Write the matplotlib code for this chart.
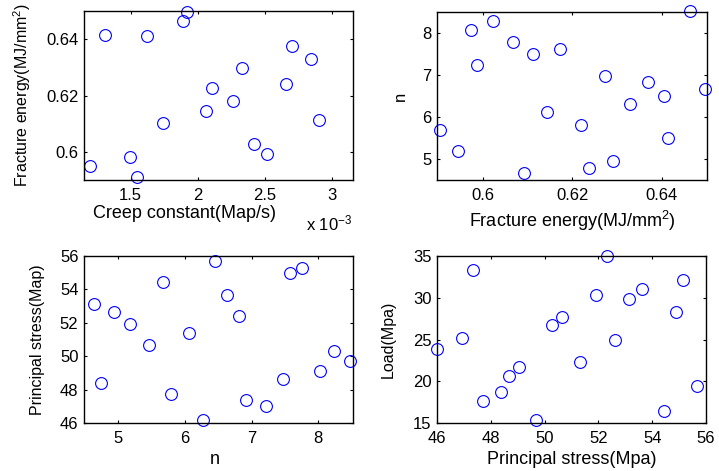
import matplotlib
matplotlib.use("Agg")
import matplotlib.pyplot as plt
from matplotlib.ticker import FuncFormatter

plt.rcParams['font.family'] = ['Liberation Sans', 'DejaVu Sans']
plt.rcParams['mathtext.default'] = 'regular'
plt.rcParams['font.size'] = 12

# panel 1: creep constant vs fracture energy
creep = [1.196e-3, 1.310e-3, 1.495e-3, 1.547e-3, 1.622e-3, 1.741e-3, 1.888e-3, 1.922e-3, 2.062e-3,
         2.104e-3, 2.266e-3, 2.331e-3, 2.422e-3, 2.515e-3, 2.659e-3, 2.704e-3, 2.843e-3, 2.905e-3]
energy1 = [0.5950, 0.6414, 0.5980, 0.5911, 0.6411, 0.6102, 0.6466, 0.6497, 0.6146,
           0.6227, 0.6180, 0.6297, 0.6027, 0.5993, 0.6241, 0.6375, 0.6331, 0.6114]

# panel 2: fracture energy vs n
energy2 = [0.5903, 0.5943, 0.5972, 0.5987, 0.6022, 0.6068, 0.6091, 0.6112, 0.6142, 0.6172,
           0.6220, 0.6237, 0.6273, 0.6291, 0.6329, 0.6370, 0.6405, 0.6414, 0.6464, 0.6497]
n2 = [5.70, 5.19, 8.08, 7.25, 8.29, 7.79, 4.67, 7.49, 6.11, 7.61,
      5.81, 4.78, 6.97, 4.95, 6.32, 6.84, 6.49, 5.49, 8.53, 6.67]

# panel 3: n vs principal stress
n3 = [4.64, 4.75, 4.94, 5.18, 5.46, 5.67, 5.80, 6.07, 6.27, 6.46,
      6.63, 6.81, 6.91, 7.22, 7.47, 7.58, 7.75, 8.02, 8.24, 8.48]
stress3 = [53.14, 48.40, 52.64, 51.90, 50.65, 54.47, 47.73, 51.39, 46.16, 55.70,
           53.66, 52.40, 47.37, 46.99, 48.66, 54.99, 55.27, 49.10, 50.30, 49.70]

# panel 4: principal stress vs load
stress4 = [46.01, 46.94, 47.33, 47.70, 48.38, 48.67, 49.05, 49.67, 50.26, 50.63,
           51.31, 51.91, 52.32, 52.60, 53.13, 53.61, 54.44, 54.88, 55.14, 55.65]
load4 = [23.87, 25.18, 33.38, 17.58, 18.74, 20.64, 21.68, 15.31, 26.77, 27.68,
         22.28, 30.27, 35.00, 24.90, 29.87, 31.03, 16.42, 28.28, 32.18, 19.47]

creep_ticks = [1.5e-3, 2e-3, 2.5e-3, 3e-3]
energy_ticks = [0.6, 0.62, 0.64]
n_ticks = [5, 6, 7, 8]
stress_ticks = [46, 48, 50, 52, 54, 56]
load_ticks = [15, 20, 25, 30, 35]

fig = plt.figure(figsize=(7.19, 4.71), dpi=100)

W, H = 719.0, 471.0
def make_ax(x0, y0, x1, y1):
    return fig.add_axes([x0 / W, 1 - y1 / H, (x1 - x0) / W, (y1 - y0) / H])

ax1 = make_ax(84, 11, 353, 180)
ax2 = make_ax(437, 12, 707, 180)
ax3 = make_ax(84, 256, 353, 423)
ax4 = make_ax(437, 256, 706, 423)

fmt = FuncFormatter(lambda v, p: '%g' % round(v, 6))

def style(ax):
    ax.tick_params(direction='in', top=True, right=True, length=2.5, width=0.8,
                   labelsize=12, colors='black')
    ax.tick_params(axis='x', pad=6)
    ax.tick_params(axis='y', pad=4)
    for s in ax.spines.values():
        s.set_linewidth(1.0)
        s.set_color('black')
    ax.xaxis.set_major_formatter(fmt)
    ax.yaxis.set_major_formatter(fmt)

def scatter(ax, x, y):
    ax.plot(x, y, linestyle='none', marker='o', markersize=8.5, markerfacecolor='none',
            markeredgecolor='blue', markeredgewidth=0.8, clip_on=False)

# panel 1
scatter(ax1, creep, energy1)
style(ax1)
ax1.set_xlim(1.152e-3, 3.157e-3)
ax1.set_ylim(0.590, 0.650)
ax1.set_xticks(creep_ticks)
ax1.set_yticks(energy_ticks)
ax1.xaxis.set_major_formatter(FuncFormatter(lambda v, p: '%g' % round(v * 1e3, 6)))
ax1.set_xlabel('Creep constant(Map/s)', fontsize=13)
ax1.set_ylabel('Fracture energy(MJ/mm$^2$)', fontsize=11.5)
ax1.xaxis.set_label_coords(0.375, -0.15)
ax1.yaxis.set_label_coords(-0.19, 0.5)
ax1.text(0.996, -0.296, 'x 10$^{-3}$', transform=ax1.transAxes, ha='right',
         va='baseline', fontsize=12)

# panel 2
scatter(ax2, energy2, n2)
style(ax2)
ax2.set_xlim(0.5897, 0.6501)
ax2.set_ylim(4.5, 8.5)
ax2.set_xticks(energy_ticks)
ax2.set_yticks(n_ticks)
ax2.set_xlabel('Fracture energy(MJ/mm$^2$)', fontsize=13)
ax2.set_ylabel('n', fontsize=12)
ax2.xaxis.set_label_coords(0.5, -0.17)
ax2.yaxis.set_label_coords(-0.106, 0.5)

# panel 3
scatter(ax3, n3, stress3)
style(ax3)
ax3.set_xlim(4.49, 8.52)
ax3.set_ylim(46, 56)
ax3.set_xticks(n_ticks)
ax3.set_yticks(stress_ticks)
ax3.set_xlabel('n', fontsize=13)
ax3.set_ylabel('Principal stress(Map)', fontsize=11.5)
ax3.xaxis.set_label_coords(0.486, -0.165)
ax3.yaxis.set_label_coords(-0.145, 0.5)

# panel 4
scatter(ax4, stress4, load4)
style(ax4)
ax4.set_xlim(46, 56)
ax4.set_ylim(15, 35)
ax4.set_xticks(stress_ticks)
ax4.set_yticks(load_ticks)
ax4.set_xlabel('Principal stress(Mpa)', fontsize=13)
ax4.set_ylabel('Load(Mpa)', fontsize=11.5)
ax4.xaxis.set_label_coords(0.5, -0.165)
ax4.yaxis.set_label_coords(-0.152, 0.5)

fig.savefig('out.png', dpi=100)
